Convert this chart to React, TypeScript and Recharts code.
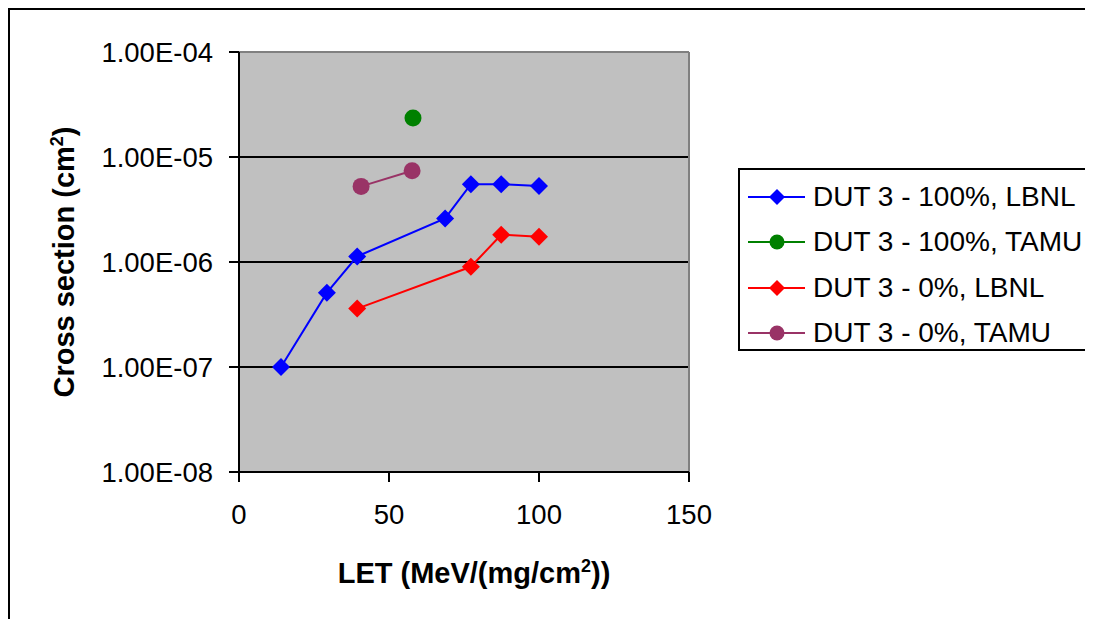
import {
  CartesianGrid,
  Legend,
  Line,
  LineChart,
  ReferenceLine,
  XAxis,
  YAxis,
} from "recharts";

const FONT = '"Liberation Sans", Arial, Helvetica, sans-serif';

// LET (MeV/(mg/cm2)) and cross section (cm2)
const LET_100_LBNL = [14, 29.3, 39.4, 68.7, 77.3, 87.4, 100];
const XS_100_LBNL = [1.0e-7, 5.1e-7, 1.13e-6, 2.6e-6, 5.5e-6, 5.5e-6, 5.3e-6];

const LET_100_TAMU = [58];
const XS_100_TAMU = [2.35e-5];

const LET_0_LBNL = [39.4, 77.3, 87.4, 100];
const XS_0_LBNL = [3.6e-7, 9.0e-7, 1.82e-6, 1.74e-6];

const LET_0_TAMU = [40.7, 57.7];
const XS_0_TAMU = [5.25e-6, 7.4e-6];

const X_TICKS = [0, 50, 100, 150];
const Y_TICKS = [1e-8, 1e-7, 1e-6, 1e-5, 1e-4];
const Y_GRID = [1e-7, 1e-6, 1e-5];

type Shape = "diamond" | "circle";

const SERIES: { name: string; color: string; shape: Shape; lets: number[]; xs: number[] }[] = [
  { name: "DUT 3 - 100%, LBNL", color: "#0000FF", shape: "diamond", lets: LET_100_LBNL, xs: XS_100_LBNL },
  { name: "DUT 3 - 100%, TAMU", color: "#008000", shape: "circle", lets: LET_100_TAMU, xs: XS_100_TAMU },
  { name: "DUT 3 - 0%, LBNL", color: "#FF0000", shape: "diamond", lets: LET_0_LBNL, xs: XS_0_LBNL },
  { name: "DUT 3 - 0%, TAMU", color: "#993366", shape: "circle", lets: LET_0_TAMU, xs: XS_0_TAMU },
];

const toPoints = (lets: number[], xs: number[]) =>
  lets.map((x, i) => ({ x, y: xs[i] }));

const formatSci = (v: number) => {
  const [m, e] = v.toExponential(2).split("e");
  const n = Number(e);
  const sign = n < 0 ? "-" : "+";
  return `${m}E${sign}${String(Math.abs(n)).padStart(2, "0")}`;
};

function Marker({ cx, cy, shape, color, size }: { cx: number; cy: number; shape: Shape; color: string; size: number }) {
  if (shape === "circle") {
    return <circle cx={cx} cy={cy} r={size} fill={color} stroke="none" />;
  }
  const d = size;
  return (
    <polygon
      points={`${cx},${cy - d} ${cx + d},${cy} ${cx},${cy + d} ${cx - d},${cy}`}
      fill={color}
      stroke="none"
    />
  );
}

// legend drawn in series order (Recharts would sort it by name)
function LegendBox() {
  return (
    <div
      style={{
        width: 354,
        height: 183,
        boxSizing: "border-box",
        border: "2px solid #000",
        background: "#fff",
        paddingTop: 4,
        fontFamily: FONT,
      }}
    >
      {SERIES.map((s) => (
        <div key={s.name} style={{ display: "flex", alignItems: "center", height: 45.5 }}>
          <svg width={73} height={24} style={{ flex: "none" }}>
            <line x1={8} y1={12} x2={65} y2={12} stroke={s.color} strokeWidth={2} />
            <Marker cx={37} cy={12} shape={s.shape} color={s.color} size={s.shape === "circle" ? 7.5 : 8} />
          </svg>
          <span style={{ fontSize: 28, color: "#000", whiteSpace: "nowrap", lineHeight: 1 }}>
            {s.name}
          </span>
        </div>
      ))}
    </div>
  );
}

function XTitle(props: any) {
  const vb = props.viewBox ?? { x: 0, y: 0, width: 0 };
  return (
    <text
      x={vb.x + vb.width / 2 + 10}
      y={vb.y + 111}
      textAnchor="middle"
      fontFamily={FONT}
      fontWeight="bold"
      fontSize={29}
      fill="#000"
    >
      LET (MeV/(mg/cm
      <tspan fontSize={18} dy={-11}>2</tspan>
      <tspan dy={11}>))</tspan>
    </text>
  );
}

function YTitle(props: any) {
  const vb = props.viewBox ?? { x: 0, y: 0, height: 0 };
  const x = vb.x + 64;
  const y = vb.y + vb.height / 2;
  return (
    <text
      x={x}
      y={y}
      transform={`rotate(-90, ${x}, ${y})`}
      textAnchor="middle"
      fontFamily={FONT}
      fontWeight="bold"
      fontSize={29}
      fill="#000"
    >
      Cross section (cm
      <tspan fontSize={18} dy={-11}>2</tspan>
      <tspan dy={11}>)</tspan>
    </text>
  );
}

export default function App() {
  return (
    <div
      style={{
        width: 1085,
        height: 611,
        boxSizing: "border-box",
        borderTop: "2px solid #000",
        borderLeft: "2px solid #000",
        background: "#fff",
        overflow: "hidden",
        position: "relative",
      }}
    >
      <LineChart
        width={1083}
        height={609}
        margin={{ top: 42, right: 404, bottom: 0, left: 0 }}
      >
        <CartesianGrid
          vertical={false}
          horizontalValues={Y_GRID}
          stroke="#000"
          strokeWidth={2}
          fill="#C0C0C0"
          fillOpacity={1}
        />
        <XAxis
          type="number"
          dataKey="x"
          domain={[0, 150]}
          ticks={X_TICKS}
          allowDataOverflow
          height={147}
          tickSize={10}
          tickMargin={22}
          axisLine={{ stroke: "#000", strokeWidth: 2 }}
          tickLine={{ stroke: "#000", strokeWidth: 2 }}
          tick={{ fill: "#000", fontSize: 27.5, fontFamily: FONT }}
          label={<XTitle />}
        />
        <YAxis
          type="number"
          scale="log"
          domain={[1e-8, 1e-4]}
          ticks={Y_TICKS}
          allowDataOverflow
          width={229}
          tickSize={10}
          tickMargin={16}
          tickFormatter={formatSci}
          axisLine={{ stroke: "#000", strokeWidth: 2 }}
          tickLine={{ stroke: "#000", strokeWidth: 2 }}
          tick={{ fill: "#000", fontSize: 27.5, fontFamily: FONT }}
          label={<YTitle />}
        />
        <ReferenceLine y={1e-4} stroke="#808080" strokeWidth={2} />
        <ReferenceLine x={150} stroke="#808080" strokeWidth={2} />
        {SERIES.map((s) => (
          <Line
            key={s.name}
            name={s.name}
            data={toPoints(s.lets, s.xs)}
            dataKey="y"
            stroke={s.color}
            strokeWidth={2}
            isAnimationActive={false}
            activeDot={false}
            dot={(p: any) => (
              <Marker
                key={`${s.name}-${p.index}`}
                cx={p.cx}
                cy={p.cy}
                shape={s.shape}
                color={s.color}
                size={s.shape === "circle" ? 8.5 : 9}
              />
            )}
          />
        ))}
        <Legend
          layout="vertical"
          align="center"
          verticalAlign="middle"
          wrapperStyle={{ left: 728, top: 158, width: 354, height: 183 }}
          content={<LegendBox />}
        />
      </LineChart>
    </div>
  );
}
